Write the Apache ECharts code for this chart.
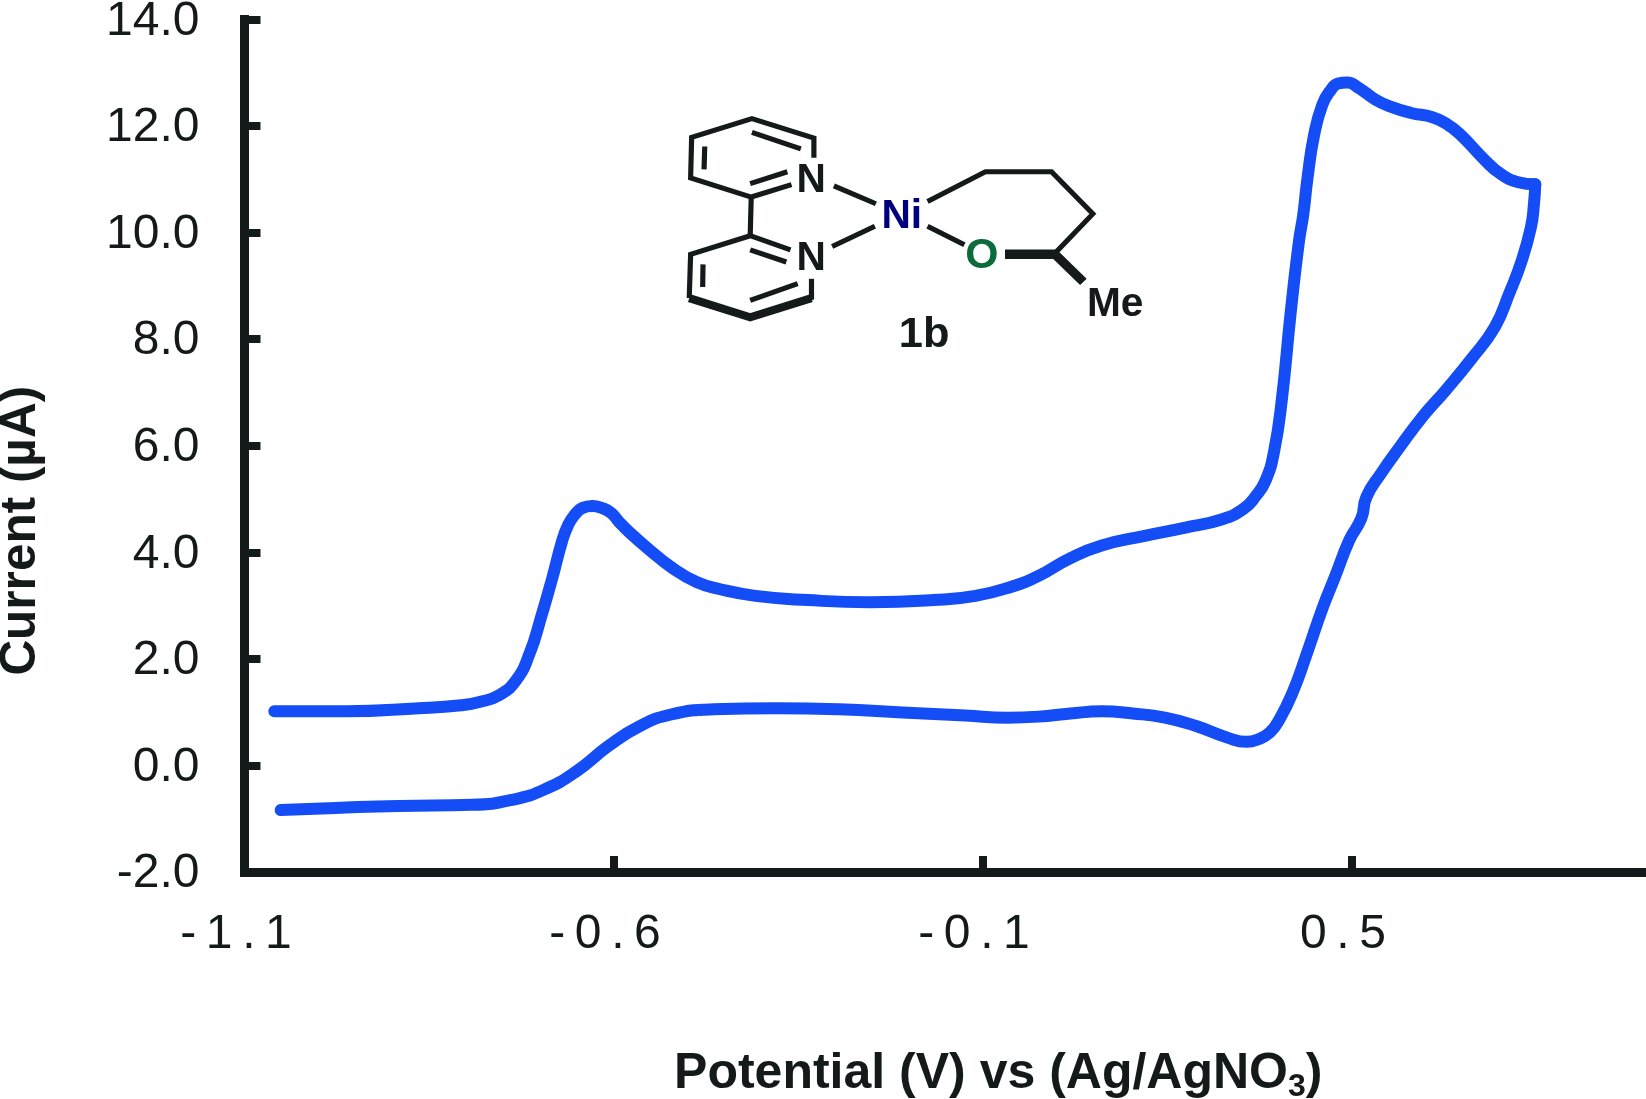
<!DOCTYPE html>
<html>
<head>
<meta charset="utf-8">
<title>Cyclic voltammogram 1b</title>
<script src="https://cdn.jsdelivr.net/npm/echarts@6/dist/echarts.min.js"></script>
<style>
  html, body { margin: 0; padding: 0; background: #fff; overflow: hidden; }
  #chart { width: 1646px; height: 1099px; }
</style>
</head>
<body>
<div id="chart"></div>
<script>
// axis ticks, they print to one decimal as -1.1 -0.6 -0.1 0.5
const xTicks = [-1.1, -0.58, -0.06, 0.46];
const yTicks = { min: -2, max: 14, step: 2 };

// sweep from the left end up to the switching point
const forwardV = [-1.058, -0.957, -0.854, -0.795, -0.769, -0.741, -0.717, -0.698, -0.682, -0.667, -0.652, -0.644, -0.635, -0.624, -0.610, -0.596, -0.583, -0.572, -0.558, -0.529, -0.497, -0.463, -0.431, -0.380, -0.306, -0.218, -0.129, -0.070, -0.018, 0.019, 0.064, 0.108, 0.167, 0.226, 0.278, 0.308, 0.325, 0.339, 0.351, 0.362, 0.374, 0.386, 0.392, 0.398, 0.407, 0.419, 0.431, 0.441, 0.454, 0.470, 0.493, 0.515, 0.544, 0.574, 0.593, 0.612, 0.648, 0.670, 0.695, 0.719];
const forwardI = [1.015, 1.015, 1.074, 1.130, 1.190, 1.321, 1.603, 2.110, 2.785, 3.480, 4.230, 4.512, 4.700, 4.831, 4.869, 4.831, 4.737, 4.568, 4.381, 4.043, 3.705, 3.442, 3.311, 3.182, 3.103, 3.064, 3.103, 3.182, 3.360, 3.557, 3.892, 4.128, 4.305, 4.463, 4.621, 4.818, 5.054, 5.350, 5.901, 6.887, 8.463, 9.842, 10.335, 11.025, 11.813, 12.404, 12.680, 12.798, 12.818, 12.719, 12.502, 12.365, 12.246, 12.167, 12.049, 11.860, 11.360, 11.103, 10.946, 10.906];

// sweep back from the switching point
const reverseV = [0.719, 0.717, 0.713, 0.700, 0.682, 0.662, 0.630, 0.593, 0.562, 0.527, 0.502, 0.481, 0.474, 0.457, 0.436, 0.419, 0.396, 0.377, 0.359, 0.345, 0.327, 0.312, 0.285, 0.241, 0.197, 0.152, 0.108, 0.064, 0.019, -0.025, -0.084, -0.173, -0.262, -0.351, -0.439, -0.499, -0.543, -0.587, -0.632, -0.676, -0.721, -0.780, -0.883, -0.972, -1.049];
const reverseI = [10.906, 10.520, 10.110, 9.480, 8.850, 8.230, 7.646, 7.046, 6.577, 5.957, 5.488, 5.038, 4.643, 4.230, 3.517, 2.946, 2.059, 1.369, 0.877, 0.621, 0.483, 0.443, 0.522, 0.739, 0.897, 0.975, 1.015, 0.975, 0.916, 0.897, 0.936, 0.995, 1.054, 1.074, 1.054, 0.956, 0.739, 0.365, -0.108, -0.443, -0.640, -0.739, -0.759, -0.798, -0.837];

const INK = '#141a19';
const BLUE = '#144cf5';
const FONT = '"Liberation Sans", Arial, sans-serif';

const zip = (xs, ys) => xs.map((x, i) => [x, ys[i]]);

// inset structure, drawn in its own little coordinate space
const bond = (points, width) => ({
  type: 'polyline',
  shape: { points },
  style: { stroke: INK, lineWidth: width || 15, fill: null, lineJoin: 'miter', lineCap: 'butt' }
});
const atom = (text, x, y, fill, size) => ({
  type: 'text',
  x, y,
  style: {
    text, fill: fill || INK,
    font: 'bold ' + (size || 118) + 'px ' + FONT,
    textAlign: 'center', textVerticalAlign: 'middle'
  }
});

const molecule = {
  type: 'group',
  x: 640, y: 87.6,
  scaleX: 1 / 2.904, scaleY: 1 / 2.97,
  silent: true,
  children: [
    bond([[505, 208], [505, 150], [325, 92], [150, 148], [147, 268], [323, 325], [440, 288]]),
    bond([[325, 133], [467, 182]]),
    bond([[188, 175], [186, 243]]),
    bond([[320, 285], [428, 250]]),
    bond([[323, 325], [320, 440]]),
    bond([[437, 482], [320, 440], [147, 495], [143, 625]]),
    bond([[143, 625], [320, 682], [498, 625]], 24),
    bond([[498, 630], [498, 568]]),
    bond([[320, 482], [425, 518]]),
    bond([[183, 525], [182, 592]]),
    bond([[320, 632], [458, 582]]),
    bond([[563, 292], [685, 345]]),
    bond([[558, 472], [682, 412]]),
    bond([[835, 338], [1003, 250], [1195, 250], [1315, 375], [1210, 487]]),
    bond([[835, 412], [942, 467]]),
    { type: 'polygon', shape: { points: [[1060, 481], [1210, 481], [1297, 568], [1278, 586], [1200, 509], [1060, 509]] }, style: { fill: INK } },
    atom('N', 497, 277),
    atom('N', 497, 509),
    atom('Ni', 760, 384, '#00007f'),
    atom('O', 993, 503, '#0b6b3a', 124),
    atom('Me', 1380, 647),
    atom('1b', 825, 736, INK, 126)
  ]
};

const sweep = (name, xs, ys) => ({
  name,
  type: 'line',
  data: zip(xs, ys),
  showSymbol: false,
  smooth: 0.5,
  clip: false,
  lineStyle: { color: BLUE, width: 12, cap: 'round', join: 'round' }
});

const chart = echarts.init(document.getElementById('chart'));
chart.setOption({
  animation: false,
  backgroundColor: '#fff',
  textStyle: { fontFamily: FONT },
  grid: { left: 244.5, top: 19.5, width: 1401.5, height: 852.5, outerBoundsMode: 'none' },
  xAxis: {
    type: 'value',
    min: -1.1,
    max: 0.875,
    splitLine: { show: false },
    axisLine: { onZero: false, lineStyle: { color: INK, width: 9, cap: 'square' } },
    axisTick: { customValues: xTicks, inside: true, length: 16, lineStyle: { color: INK, width: 8 } },
    axisLabel: {
      customValues: xTicks,
      margin: 39,
      color: INK,
      fontSize: 48,
      padding: [0, 17, 0, 0],
      formatter: v => v.toFixed(1).split('').join('\u2009')
    },
    name: 'Potential (V) vs (Ag/AgNO{sub|3})',
    nameLocation: 'middle',
    nameGap: 173,
    nameTextStyle: {
      color: INK, fontSize: 50, fontWeight: 'bold', padding: [0, 0, 0, 106],
      rich: { sub: { fontSize: 32, fontWeight: 'bold', color: INK, verticalAlign: 'bottom', padding: [26, 0, 0, 0] } }
    }
  },
  yAxis: {
    type: 'value',
    min: yTicks.min,
    max: yTicks.max,
    interval: yTicks.step,
    splitLine: { show: false },
    axisLine: { onZero: false, lineStyle: { color: INK, width: 9, cap: 'square' } },
    axisTick: { inside: true, length: 16, lineStyle: { color: INK, width: 8 } },
    axisLabel: {
      margin: 45,
      color: INK,
      fontSize: 48,
      verticalAlign: 'top',
      lineHeight: 4,
      formatter: v => v.toFixed(1)
    },
    name: 'Current (µA)',
    nameLocation: 'middle',
    nameRotate: 90,
    nameGap: 198,
    nameTextStyle: { color: INK, fontSize: 49.5, fontWeight: 'bold', padding: [0, 170, 0, 0] }
  },
  graphic: [molecule],
  series: [
    sweep('Forward sweep', forwardV, forwardI),
    sweep('Reverse sweep', reverseV, reverseI)
  ]
});
</script>
</body>
</html>
